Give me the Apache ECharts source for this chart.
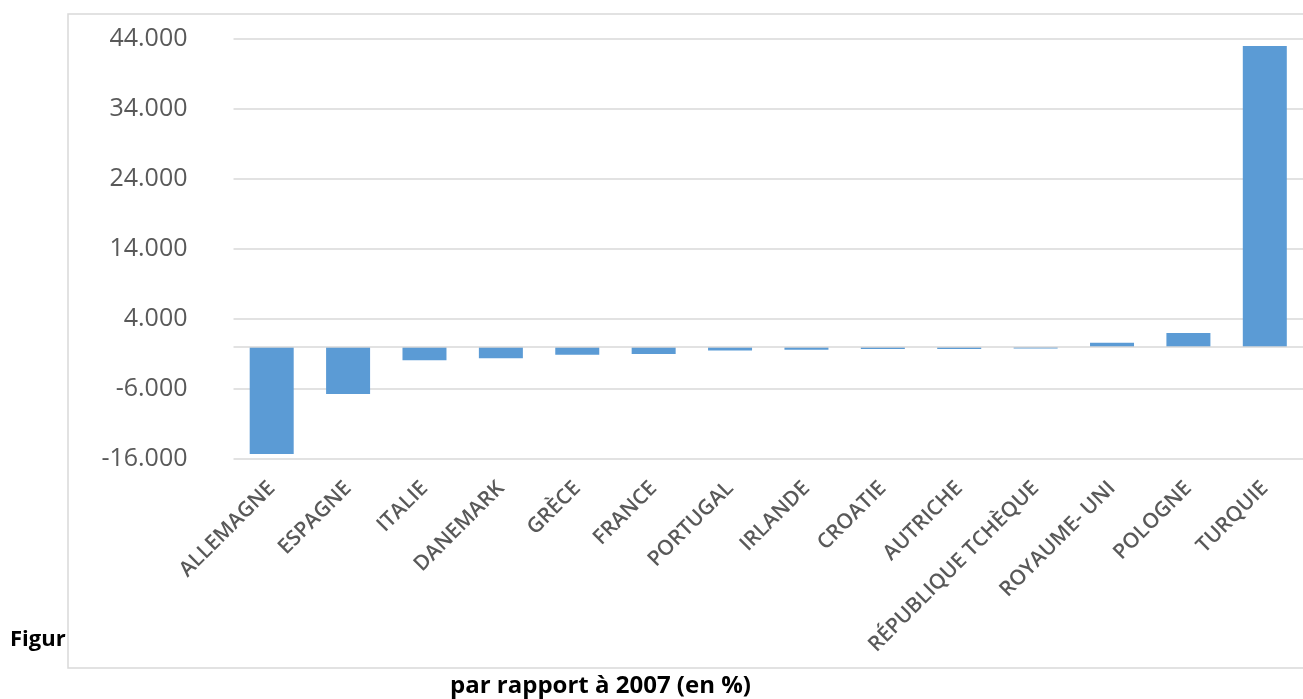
<!DOCTYPE html>
<html>
<head>
<meta charset="utf-8">
<script src="https://cdn.jsdelivr.net/npm/echarts@6/dist/echarts.min.js"></script>
<style>
  html, body { margin: 0; padding: 0; background: #fff; }
  #chart { width: 1303px; height: 699px; }
</style>
</head>
<body>
<div id="chart"></div>
<script>
// pays (ordre du graphique)
var pays = ['ALLEMAGNE', 'ESPAGNE', 'ITALIE', 'DANEMARK', 'GRÈCE', 'FRANCE', 'PORTUGAL',
  'IRLANDE', 'CROATIE', 'AUTRICHE', 'RÉPUBLIQUE TCHÈQUE', 'ROYAUME- UNI', 'POLOGNE', 'TURQUIE'];

// évolution par rapport à 2007 (en %)
var evolution = [-15.3, -6.7, -1.9, -1.6, -1.1, -1.0, -0.5, -0.4, -0.3, -0.3, -0.2, 0.6, 2.0, 43.0];

// graduations de l'axe
var axeMin = -16;
var axeMax = 44;
var axePas = 10;

var myChart = echarts.init(document.getElementById('chart'));

var option = {
  backgroundColor: '#fff',
  animation: false,
  grid: {
    left: 233.5,
    right: -8.5,
    top: 39,
    bottom: 240
  },
  xAxis: {
    type: 'category',
    data: pays,
    axisLine: { show: false },
    axisTick: { show: false },
    axisLabel: {
      rotate: 45,
      interval: 0,
      margin: 26,
      color: '#595959',
      fontFamily: 'Open Sans',
      fontWeight: 600,
      fontSize: 21
    }
  },
  yAxis: {
    type: 'value',
    min: axeMin,
    max: axeMax,
    interval: axePas,
    axisLine: { show: false },
    axisTick: { show: false },
    axisLabel: {
      margin: 46,
      color: '#595959',
      fontFamily: 'Open Sans',
      fontSize: 25,
      formatter: function (v) { return v.toFixed(3); }
    },
    splitLine: { lineStyle: { color: '#d9d9d9', width: 1.5 } }
  },
  series: [{
    type: 'bar',
    data: evolution,
    barWidth: 44,
    itemStyle: { color: '#5b9bd5' },
    markLine: {
      silent: true,
      symbol: 'none',
      label: { show: false },
      lineStyle: { color: '#d9d9d9', type: 'solid', width: 1.5 },
      data: [{ yAxis: 0 }]
    }
  }],
  graphic: [
    {
      type: 'rect',
      shape: { x: 68, y: 14, width: 1300, height: 654 },
      style: { fill: 'none', stroke: '#d9d9d9', lineWidth: 1.5 }
    },
    {
      type: 'text',
      left: 10,
      top: 629,
      style: {
        text: 'Figur',
        fill: '#000',
        font: 'bold 22px "Open Sans"'
      }
    },
    {
      type: 'text',
      left: 450,
      top: 674,
      style: {
        text: 'par rapport à 2007 (en %)',
        fill: '#000',
        font: 'bold 24px "Open Sans"'
      }
    }
  ]
};

myChart.setOption(option);

window.addEventListener('resize', function () {
  myChart.resize();
});
</script>
</body>
</html>
